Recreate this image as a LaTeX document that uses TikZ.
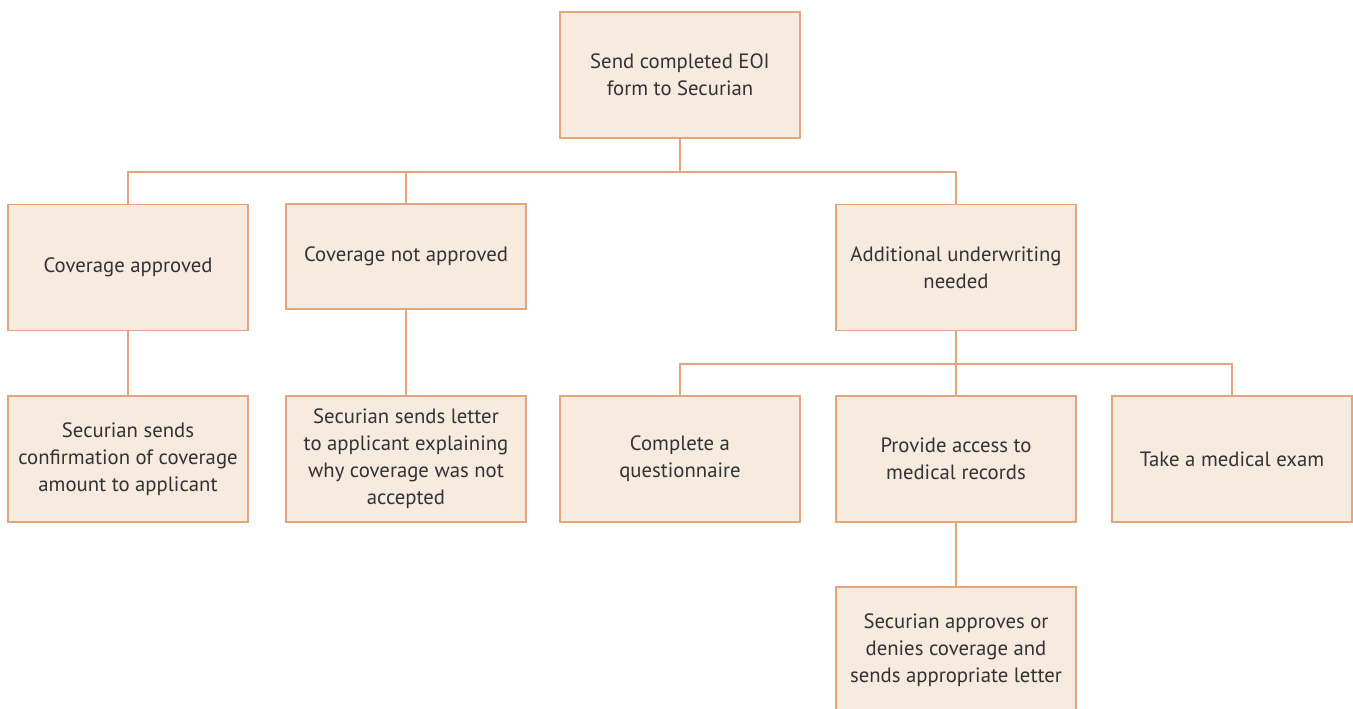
\documentclass[tikz,border=0pt]{standalone}
\usepackage{fontspec}
\setmainfont{PT Sans}
\usepackage{xcolor}
\definecolor{boxfill}{HTML}{F7EADF}
\definecolor{boxline}{HTML}{E5A47A}
\definecolor{boxtext}{HTML}{333333}
\tikzset{
  stepbox/.style={draw=boxline, fill=boxfill, line width=0.85pt, minimum width=4.8cm,
    minimum height=2.52cm, align=center, text=boxtext, inner sep=0pt,
    font=\fontsize{11.8}{15.3}\selectfont},
  link/.style={draw=boxline, line width=0.85pt}
}

\begin{document}
\begin{tikzpicture}[x=0.02cm,y=-0.02cm]
\useasboundingbox (0,0) rectangle (1353,708);
% first level
\node[stepbox] (send) at (680,75) {Send completed EOI\\form to Securian};
\node[stepbox] (cov) at (128,267.5) {Coverage approved};
\node[stepbox, minimum height=2.1cm] (notap) at (406,256.5) {Coverage not approved};
\node[stepbox] (addl) at (956,267.5) {Additional underwriting\\needed};
% second level
\node[stepbox] (conf) at (128,459) {Securian sends\\confirmation of coverage\\amount to applicant};
\node[stepbox] (letter) at (406,459) {Securian sends letter\\to applicant explaining\\why coverage was not\\accepted};
\node[stepbox] (quest) at (680,459) {Complete a\\questionnaire};
\node[stepbox] (recs) at (956,459) {Provide access to\\medical records};
\node[stepbox] (exam) at (1232,459) {Take a medical exam};
\node[stepbox] (final) at (956,650) {Securian approves or\\denies coverage and\\sends appropriate letter};
% connectors
\coordinate (bus) at (680,172); \coordinate (bus2) at (956,364);
\draw[link] (send.south) -- (bus);
\draw[link] (cov.north) |- (bus) -| (addl.north);
\draw[link] (notap.north) -- (notap.north |- bus);
\draw[link] (cov.south) -- (conf.north);
\draw[link] (notap.south) -- (letter.north);
\draw[link] (addl.south) -- (recs.north);
\draw[link] (quest.north) |- (bus2) -| (exam.north);
\draw[link] (recs.south) -- (final.north);
\end{tikzpicture}
\end{document}
